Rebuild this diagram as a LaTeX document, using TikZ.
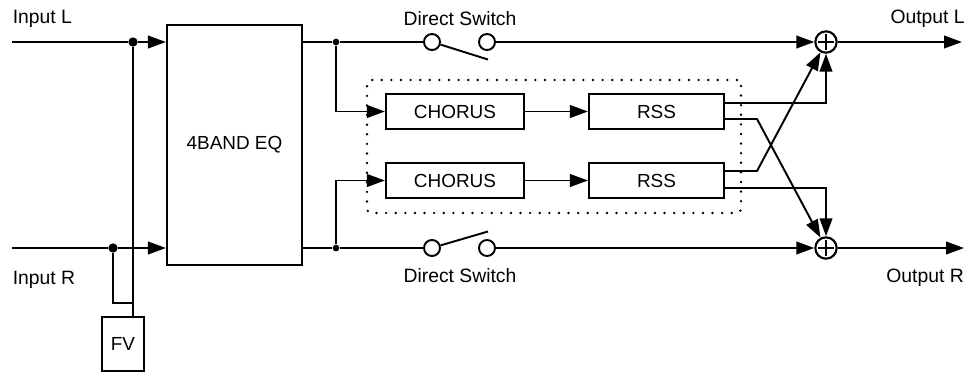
\documentclass[tikz,border=0pt]{standalone}
\usepackage{fontspec}
\setmainfont{Liberation Sans}
\usetikzlibrary{arrows.meta,calc}
\tikzset{
  wire/.style={line width=1.45pt,line join=miter},
  flow/.style={wire,-{Triangle[length=13.5pt,width=9.5pt]}},
  blockbox/.style={draw,line width=1.6pt,inner sep=0pt,font=\fontsize{14.2}{17}\selectfont},
  dot/.style={circle,fill,inner sep=0pt,minimum size=7pt},
  smalldot/.style={circle,fill,inner sep=0pt,minimum size=5pt},
  contact/.style={circle,draw,fill=white,line width=1.45pt,inner sep=0pt,minimum size=12pt},
  sumnode/.style={circle,draw,line width=1.6pt,inner sep=0pt,minimum size=16pt,
    path picture={\draw[line width=1.8pt] ($(path picture bounding box.north)+(0,-2.2pt)$) -- ($(path picture bounding box.south)+(0,2.2pt)$)
      ($(path picture bounding box.west)+(2.2pt,0)$) -- ($(path picture bounding box.east)+(-2.2pt,0)$);}},
  label/.style={font=\fontsize{14.5}{17}\selectfont,inner sep=0pt},
  group/.style={draw,line width=2pt,line cap=round,dash pattern=on 0pt off 7.2pt,rounded corners=3pt,inner sep=0pt}
}
\begin{document}
\begin{tikzpicture}[x=0.75pt,y=-0.75pt]
\useasboundingbox (0,0) rectangle (967,372);
% dotted group
\node[group,minimum width=280.5pt,minimum height=99.75pt] (grp) at (554,146.5) {};
% blocks
\node[blockbox,minimum width=101.25pt,minimum height=180pt] (eq) at (234.5,145) {4BAND EQ};
\node[blockbox,minimum width=31.5pt,minimum height=40.5pt] (fv) at (123,344) {FV};
\node[blockbox,minimum width=103.5pt,minimum height=26.25pt] (ch1) at (455,111.5) {CHORUS};
\node[blockbox,minimum width=103.5pt,minimum height=26.25pt] (ch2) at (455,180.5) {CHORUS};
\node[blockbox,minimum width=101.25pt,minimum height=26.25pt] (rss1) at (656.5,111.5) {RSS};
\node[blockbox,minimum width=101.25pt,minimum height=26.25pt] (rss2) at (656.5,180.5) {RSS};
% junctions
\node[dot] (jl) at (133,42) {};
\node[dot] (jr) at (113,248) {};
\node[smalldot] (jt) at (336,42) {};
\node[smalldot] (jb) at (336,248) {};
% switches
\node[contact] (s1a) at (432,42) {};
\node[contact] (s1b) at (487,42) {};
\node[contact] (s2a) at (432,248) {};
\node[contact] (s2b) at (487,248) {};
\coordinate (b1) at (488,59.5);
\coordinate (b2) at (488,231.5);
% summing points
\node[sumnode] (suml) at (826,42) {};
\node[sumnode] (sumr) at (826,248) {};
% free ends
\coordinate (inl) at (12,42);
\coordinate (inr) at (12,248);
\coordinate (outl) at (962,42);
\coordinate (outr) at (964,248);
\coordinate (fvt) at (133,316);
\coordinate (fvj) at (133,303);
\coordinate (fvc) at (113,303);
\coordinate (rtop) at (724,103);
\coordinate (rtopb) at (724,119);
\coordinate (rbot) at (724,171);
\coordinate (rbotb) at (724,188);
\coordinate (k1) at (757,119);
\coordinate (k2) at (757,171);
% input wires
\draw[flow] (inl) -- (jl) -- (eq.west |- jl);
\draw[flow] (inr) -- (jr) -- (eq.west |- jr);
\draw[wire] (jl) -- (fvt);
\draw[wire] (jr) -- (fvc) -- (fvj);
% direct paths
\draw[wire] (eq.east |- jt) -- (jt) -- (s1a);
\draw[wire] (eq.east |- jb) -- (jb) -- (s2a);
\draw[flow] (s1b) -- (suml);
\draw[flow] (s2b) -- (sumr);
\draw[wire] (s1a.-17) -- (b1);
\draw[wire] (s2a.17) -- (b2);
% effect chain
\draw[flow] (jt) |- (ch1);
\draw[flow] (jb) |- (ch2);
\draw[flow] (ch1) -- (rss1);
\draw[flow] (ch2) -- (rss2);
% cross-feeds
\draw[flow] (rtop) -| (suml);
\draw[flow] (rbotb) -| (sumr);
\draw[flow] (rtopb) -- (k1) -- (sumr);
\draw[flow] (rbot) -- (k2) -- (suml);
% outputs
\draw[flow] (suml) -- (outl);
\draw[flow] (sumr) -- (outr);
% labels
\node[label,anchor=base west] (tinl) at (12.5,23.5) {Input L};
\node[label,anchor=base west] (tinr) at (12.5,284) {Input R};
\node[label,anchor=base] (tsw1) at (460,25.5) {Direct Switch};
\node[label,anchor=base] (tsw2) at (460,282.5) {Direct Switch};
\node[label,anchor=base east] (toutl) at (965,23) {Output L};
\node[label,anchor=base east] (toutr) at (964,282) {Output R};
\end{tikzpicture}
\end{document}
